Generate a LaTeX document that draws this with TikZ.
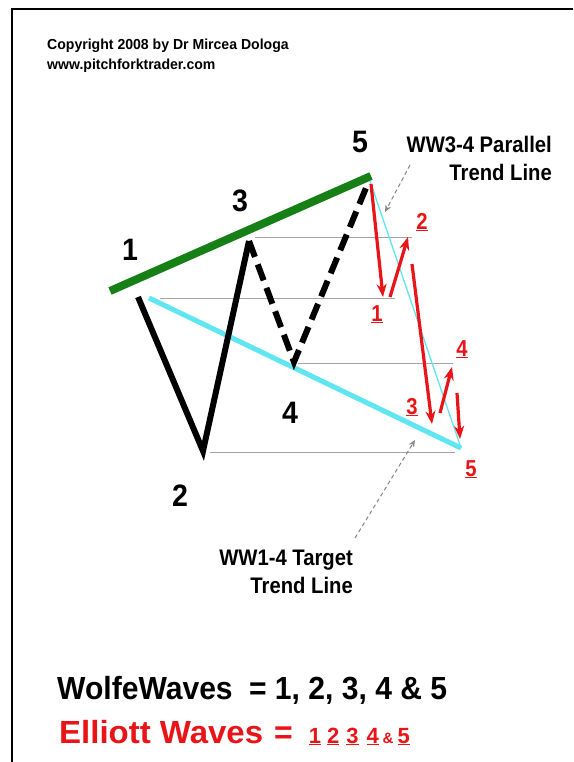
\documentclass[tikz,border=0pt]{standalone}
\usepackage{fontspec}
\setmainfont{Liberation Sans}
\usepackage{graphicx}
\usetikzlibrary{arrows.meta}
\definecolor{wgreen}{RGB}{22,128,22}
\definecolor{wcyan}{RGB}{95,230,240}
\definecolor{wred}{RGB}{232,20,24}
\definecolor{wgray}{RGB}{165,165,165}
\newcommand{\sx}[2]{\scalebox{#1}[1]{#2}}
\begin{document}
\begin{tikzpicture}[x=1pt,y=-1pt,
  txt/.style={inner sep=0pt,font=\bfseries},
  bignum/.style={txt,font=\bfseries\fontsize{31}{31}\selectfont},
  rednum/.style={txt,text=wred,font=\bfseries\fontsize{23}{23}\selectfont},
  note/.style={txt,font=\bfseries\fontsize{22.5}{22.5}\selectfont},
  level/.style={wgray,line width=0.9pt},
  wave/.style={line width=6pt,line join=miter,line cap=butt},
  ewave/.style={wred,line width=3.2pt,-{Stealth[length=13pt,width=10pt]}},
  pointer/.style={wgray!80!black,line width=1pt,dash pattern=on 4pt off 3pt,-{Stealth[length=7pt,width=6pt,open]}}]
\useasboundingbox (0,0) rectangle (573,762);
\fill[white] (0,0) rectangle (573,762);
% frame
\draw[line width=2.2pt] (12,762) -- (12,9) -- (573,9);
% copyright
\node[txt,anchor=base west,font=\bfseries\fontsize{14.5}{14.5}\selectfont] (copy) at (47,50) {\sx{0.97}{Copyright 2008 by Dr Mircea Dologa}};
\node[txt,anchor=base west,font=\bfseries\fontsize{14.5}{14.5}\selectfont] (web) at (47,70) {\sx{0.97}{www.pitchforktrader.com}};
% points
\coordinate (w1) at (138,297);
\coordinate (w2) at (203,451);
\coordinate (w3) at (249,241);
\coordinate (w4) at (294,362);
\coordinate (w5) at (366,188);
\coordinate (g1) at (110,291);
\coordinate (g2) at (371,176);
\coordinate (c1) at (149,298);
\coordinate (c2) at (461,448);
\coordinate (t1) at (370,181);
% level lines
\coordinate (l3a) at (255,237); \coordinate (l3b) at (412,237);
\coordinate (l1a) at (160,298); \coordinate (l1b) at (395,298);
\coordinate (l4a) at (298,363); \coordinate (l4b) at (453,363);
\coordinate (l2a) at (210,452); \coordinate (l2b) at (455,452);
\draw[level] (l3a) -- (l3b);
\draw[level] (l1a) -- (l1b);
\draw[level] (l4a) -- (l4b);
\draw[level] (l2a) -- (l2b);
% trend lines
\draw[wcyan,line width=5pt] (c1) -- (c2);
\draw[wcyan,line width=1.3pt] (t1) -- (c2);
\draw[wgreen,line width=8pt] (g1) -- (g2);
% wolfe waves
\draw[wave] (w1) -- (w2) -- (w3);
\draw[wave,dash pattern=on 17pt off 8pt] (w3) -- (w4) -- (w5);
% elliott waves
\coordinate (e0) at (371,184);
\coordinate (e1) at (383,297);
\coordinate (e1s) at (390,297);
\coordinate (e2) at (408,237);
\coordinate (e2s) at (412,264);
\coordinate (e3) at (432,424);
\coordinate (e3s) at (440,413);
\coordinate (e4) at (452,367);
\coordinate (e4s) at (457,393);
\coordinate (e5) at (460,439);
\draw[ewave] (e0) -- (e1);
\draw[ewave] (e1s) -- (e2);
\draw[ewave] (e2s) -- (e3);
\draw[ewave] (e3s) -- (e4);
\draw[ewave] (e4s) -- (e5);
% wolfe labels
\node[bignum,anchor=base] (n1) at (130,260) {\sx{0.92}{1}};
\node[bignum,anchor=base] (n2) at (180,506) {\sx{0.92}{2}};
\node[bignum,anchor=base] (n3) at (240,211) {\sx{0.92}{3}};
\node[bignum,anchor=base] (n4) at (290,423) {\sx{0.92}{4}};
\node[bignum,anchor=base] (n5) at (360,153) {\sx{0.92}{5}};
% elliott labels
\node[rednum,anchor=base] (r1) at (377,321) {\underline{\sx{0.88}{1}}};
\node[rednum,anchor=base] (r2) at (422,229) {\underline{\sx{0.88}{2}}};
\node[rednum,anchor=base] (r3) at (412,414) {\underline{\sx{0.88}{3}}};
\node[rednum,anchor=base] (r4) at (462,356) {\underline{\sx{0.88}{4}}};
\node[rednum,anchor=base] (r5) at (471,476) {\underline{\sx{0.88}{5}}};
% annotations
\node[note,anchor=base east] (pa) at (552,153) {\sx{0.9}{WW3-4 Parallel}};
\node[note,anchor=base east] (pb) at (552,180) {\sx{0.9}{Trend Line}};
\node[note,anchor=base east] (ta) at (353,565) {\sx{0.9}{WW1-4 Target}};
\node[note,anchor=base east] (tb) at (353,593) {\sx{0.9}{Trend Line}};
\coordinate (pp0) at (410,165);
\coordinate (pp1) at (385,212);
\coordinate (tp0) at (355,538);
\coordinate (tp1) at (415,440);
\draw[pointer] (pp0) -- (pp1);
\draw[pointer] (tp0) -- (tp1);
% summary
\node[txt,anchor=base west,font=\bfseries\fontsize{32}{32}\selectfont] (ww) at (57,699) {\sx{0.94}{WolfeWaves\hspace{17.4pt}= 1, 2, 3, 4 \& 5}};
\node[txt,anchor=base west,text=wred,font=\bfseries\fontsize{32}{32}\selectfont] (ew) at (59,743) {\sx{1.03}{Elliott Waves}\hspace{11pt}=\hspace{16pt}{\fontsize{22}{22}\selectfont\underline{1}\hspace{6pt}\underline{2}\hspace{7pt}\underline{3}\hspace{8pt}\underline{4}}{\fontsize{15}{15}\selectfont\hspace{4pt}\&\hspace{4pt}}{\fontsize{22}{22}\selectfont\underline{5}}};
\end{tikzpicture}
\end{document}
